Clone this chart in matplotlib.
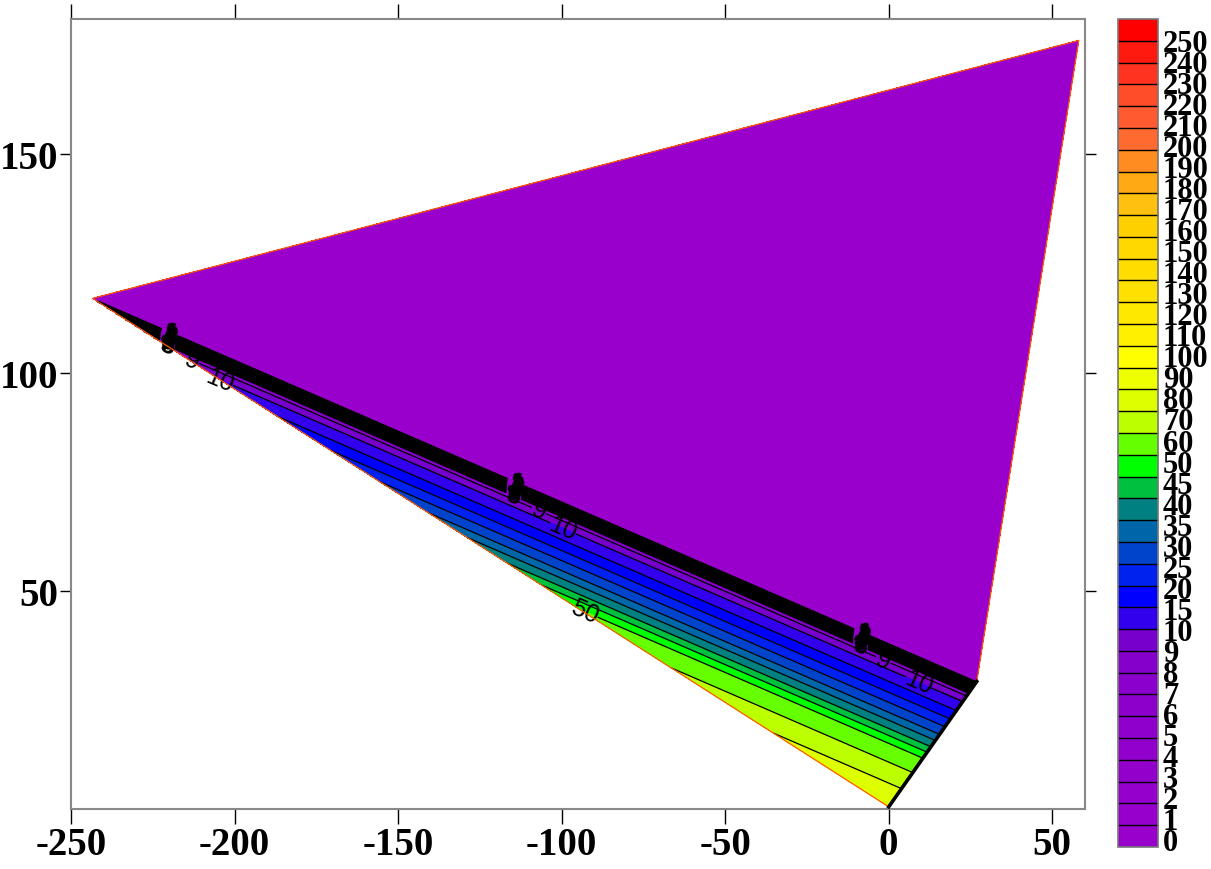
import numpy as np
import matplotlib
matplotlib.use('Agg')
import matplotlib.pyplot as plt

plt.rcParams['axes.unicode_minus'] = False
plt.rcParams['font.family'] = ['Liberation Serif', 'DejaVu Serif']

# ---- data ----
# corners of the sampled region (data units)
corner_left = (-243.4, 117.0)
corner_bottom = (0.0, 0.5)
corner_lowright = (26.9, 29.2)
corner_topright = (58.1, 176.1)

# value profile vs. vertical depth below the left -> lower-right diagonal
depth = [0.0, 0.23, 3.3, 4.3, 6.0, 8.7, 11.2, 13.5, 15.8, 17.6, 19.5, 21.1, 22.9, 27.2, 32.0, 37.9]
value = [0.6, 1.0, 8.0, 9.0, 10.0, 15.0, 20.0, 25.0, 30.0, 35.0, 40.0, 45.0, 50.0, 60.0, 70.0, 78.0]

levels = [0, 1, 2, 3, 4, 5, 6, 7, 8, 9, 10, 15, 20, 25, 30, 35, 40, 45, 50,
          60, 70, 80, 90, 100, 110, 120, 130, 140, 150, 160, 170, 180, 190,
          200, 210, 220, 230, 240, 250]
band_colors = ['#9900CC', '#9700CC', '#9500CC', '#9300CC', '#9100CC', '#8F00CC',
               '#8D00CC', '#8B00CC', '#8600CC', '#7700CC', '#3300EE', '#0000FF',
               '#0022EE', '#0044CC', '#0066AA', '#008080', '#00C040', '#00FF00',
               '#66FF00', '#BBFF00', '#DDFF00', '#EEFF00', '#FFFF00', '#FFF000',
               '#FFE800', '#FFE000', '#FFDD00', '#FFD800', '#FFD000', '#FFC010',
               '#FFAA15', '#FF8C20', '#FF6A30', '#FF5A30', '#FF4D2A', '#FF3320',
               '#FF1A10', '#FF0000']

xticks = [-250, -200, -150, -100, -50, 0, 50]
yticks = [50, 100, 150]

# contour label spots (level -> points)
label_spots = {
    1: [(-220.8, 107.9), (-114.4, 74.6), (-8.3, 40.4)],
    2: [(-220.8, 107.7), (-114.4, 74.3), (-8.3, 40.1)],
    3: [(-220.8, 107.5), (-114.4, 74.0), (-8.3, 39.8)],
    4: [(-220.8, 107.2), (-114.4, 73.6), (-8.3, 39.5)],
    5: [(-220.8, 107.0), (-114.4, 73.3), (-8.3, 39.2)],
    6: [(-220.8, 106.6), (-114.4, 73.0), (-8.3, 38.8)],
    7: [(-220.8, 106.3), (-114.4, 72.6), (-8.3, 38.5)],
    8: [(-220.8, 106.0), (-114.4, 72.3), (-8.3, 38.2)],
    9: [(-213.5, 102.0), (-107.0, 68.2), (-1.8, 33.9)],
    10: [(-207.5, 100.2), (-99.0, 65.0), (9.5, 29.6)],
    50: [(-93.0, 45.2)],
}

# ---- build the field on a grid spanning the quadrilateral ----
A = np.array(corner_left)
O = np.array(corner_bottom)
B = np.array(corner_lowright)
C = np.array(corner_topright)
n = 900
S, T = np.meshgrid(np.linspace(0, 1, n), np.linspace(0, 1, n))
X = (1 - S) * (1 - T) * A[0] + S * (1 - T) * O[0] + S * T * B[0] + (1 - S) * T * C[0]
Y = (1 - S) * (1 - T) * A[1] + S * (1 - T) * O[1] + S * T * B[1] + (1 - S) * T * C[1]
y_diag = A[1] + (B[1] - A[1]) / (B[0] - A[0]) * (X - A[0])
Z = np.interp(y_diag - Y, depth, value)

fig = plt.figure(figsize=(12.11, 8.7), dpi=100)
ax = fig.add_axes([71 / 1211, 60 / 870, 1014 / 1211, 790 / 870])

cf = ax.contourf(X, Y, Z, levels=levels, colors=band_colors)
plain_levels = [lv for lv in levels if lv not in label_spots]
ax.contour(X, Y, Z, levels=plain_levels, colors='k', linewidths=0.9)

for lev, pts in label_spots.items():
    crowded = lev <= 8
    cs_l = ax.contour(X, Y, Z, levels=[lev], colors='k',
                      linewidths=1.7 if crowded else 0.9)
    txts = cs_l.clabel(manual=pts, inline=True, fmt='%d',
                       fontsize=18, colors='k', inline_spacing=2)
    for t in txts:
        t.set_fontfamily('Liberation Sans')
        if crowded:
            t.set_fontweight('bold')

# edges of the region
ax.plot([O[0], A[0], C[0], B[0]], [O[1], A[1], C[1], B[1]], color='#FF5A00',
        lw=0.9, zorder=4, solid_capstyle='butt')
ax.plot([O[0], B[0]], [O[1], B[1]], color='k', lw=2.6, zorder=4)

ax.set_xlim(-250, 60)
ax.set_ylim(0, 181)
ax.set_xticks(xticks)
ax.set_yticks(yticks)
ax.set_xticklabels([str(v) for v in xticks])
ax.set_yticklabels([str(v) for v in yticks])
for lab in ax.get_xticklabels() + ax.get_yticklabels():
    lab.set_fontsize(28)
    lab.set_fontweight('bold')
    lab.set_fontfamily('Liberation Serif')
ax.tick_params(axis='x', direction='out', length=11, width=1, pad=1,
               top=True, labeltop=False)
ax.tick_params(axis='y', direction='out', length=8, width=1, pad=1,
               right=True, labelright=False)
for sp in ax.spines.values():
    sp.set_color('#888888')
    sp.set_linewidth(1.5)

# colorbar
cax = fig.add_axes([1118 / 1211, 22 / 870, 40 / 1211, 828 / 870])
cb = fig.colorbar(cf, cax=cax, drawedges=True)
cb.set_ticks([])
cb.minorticks_off()
cb.outline.set_edgecolor('#777777')
cb.outline.set_linewidth(1.2)
cb.dividers.set_color('k')
cb.dividers.set_linewidth(1.0)
for k, lev in enumerate(levels):
    ypx = 844 - k * 21.05
    frac = (848 - ypx) / 828
    cax.text(1.12, frac, str(lev), transform=cax.transAxes, va='center',
             ha='left', fontsize=22, fontweight='bold',
             fontfamily='Liberation Serif', clip_on=False)

fig.savefig('out.png', dpi=100)
